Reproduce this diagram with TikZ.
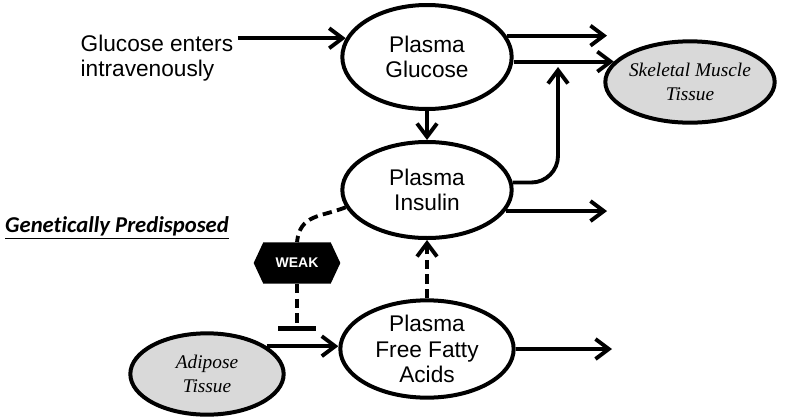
\documentclass[tikz,border=0pt]{standalone}
\usepackage{fontspec}
\setmainfont{Liberation Sans}
\newfontfamily\serifit{Liberation Serif}
\newfontfamily\calib[Ligatures = NoCommon]{Carlito}
\usetikzlibrary{arrows.meta,shapes.geometric,shapes.symbols}
\newcommand{\outarrow}[2]{\draw[arr] (#1) -- (#1 -| #2);}

\begin{document}
\begin{tikzpicture}[x = 0.75pt, y = -0.75pt,
  arr/.style = {line width = 2.9pt, -{Straight Barb[length = 10pt, width = 15pt]}},
  weakline/.style = {line width = 2.9pt, dash pattern = on 7pt off 4pt},
  pool/.style = {ellipse, draw, line width = 3pt, align = center, inner sep = 0pt, font = \fontsize{17}{19}\selectfont},
  tissue/.style = {pool, fill = black!15, inner xsep = -6pt, font = \serifit\itshape\fontsize{14.5}{18}\selectfont},
  weakbox/.style = {signal, signal to = east and west, signal pointer angle = 130, fill = black, text = white,
    minimum width = 65pt, minimum height = 31pt, inner sep = 0pt, font = \bfseries\fontsize{10.5}{12}\selectfont}]
\useasboundingbox (0,0) rectangle (800,418);

\node[anchor = west, align = left, font = \fontsize{17}{19}\selectfont] (gtext) at (76,58) {Glucose enters\\intravenously};
\node[pool, minimum width = 127pt, minimum height = 78pt] (glucose) at (427,57) {Plasma\\Glucose};
\node[pool, minimum width = 127pt, minimum height = 72pt] (insulin) at (427,190) {Plasma\\Insulin};
\node[pool, minimum width = 130pt, minimum height = 73pt] (ffa) at (427,349) {Plasma\\Free Fatty\\Acids};
\node[tissue, minimum width = 127pt, minimum height = 61pt] (muscle) at (690,82) {Skeletal Muscle\\Tissue};
\node[tissue, minimum width = 115pt, minimum height = 61pt] (adipose) at (207,374) {Adipose\\Tissue};
\node[weakbox] (weak) at (297,263) {WEAK};
\node[font = \calib\bfseries\itshape\fontsize{17}{19}\selectfont] (gp) at (117,228) {\underline{Genetically Predisposed}};

\coordinate (gout) at (607,37);
\coordinate (iout) at (607,212);
\coordinate (fout) at (612,352);
\coordinate (jn) at (558,67);
\coordinate (blk) at (290,331);

% glucose side
\draw[arr] (gtext.east |- glucose.167) -- (glucose.167);
\outarrow{glucose.15}{gout}
\draw[arr] (glucose.east |- muscle.165) -- (muscle.165);
\draw[arr] (glucose.south) -- (insulin.north);

% insulin side
\draw[arr, rounded corners = 20pt] (insulin.5) -| (jn);
\outarrow{insulin.-15}{iout}
\draw[weakline] (insulin.192) .. controls +(-25,10) and +(3,-28) .. (weak.north);
\draw[weakline, -{Bar[width = 28pt, line width = 3.6pt]}] (weak.south) -- (weak.south |- blk);

% fatty acids
\draw[arr] (adipose.25) -- (adipose.25 -| ffa.west);
\draw[arr, weakline] (ffa.north) -- (insulin.south);
\outarrow{ffa.east}{fout}
\end{tikzpicture}
\end{document}
